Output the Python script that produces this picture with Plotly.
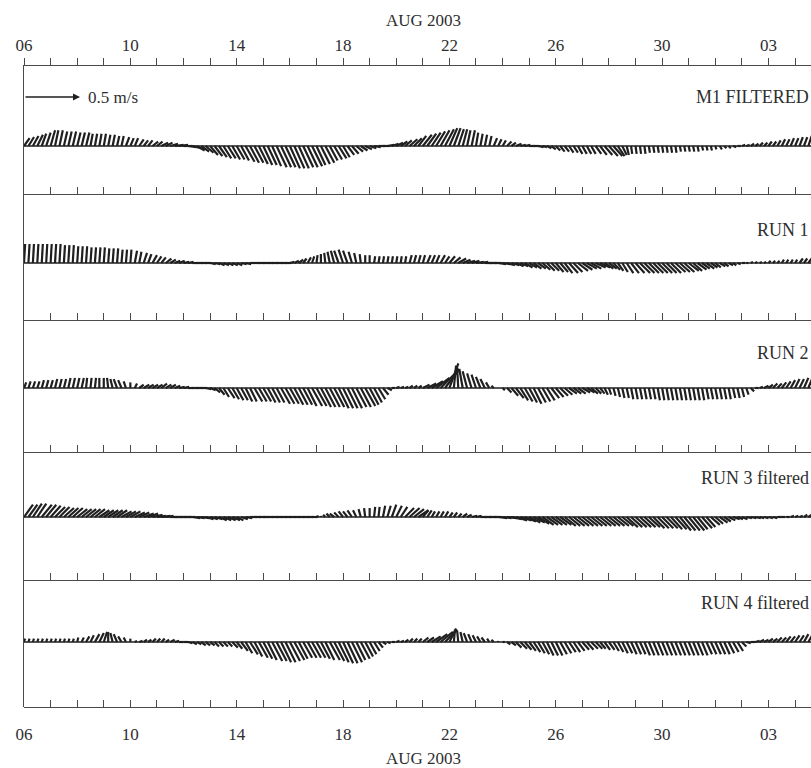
import plotly.graph_objects as go

# ---------------- data (cm/s, 4-hourly from 06 Aug 2003 00:00) ----------------
STEP_DAYS = 4 / 24.0
tick_days = [0, 4, 8, 12, 16, 20, 24, 28]
tick_labels = ["06", "10", "14", "18", "22", "26", "30", "03"]
month_label = "AUG 2003"
panel_names = ["M1 FILTERED", "RUN 1", "RUN 2", "RUN 3 filtered", "RUN 4 filtered"]
scale_ref_ms = 0.5
scale_label = "0.5 m/s"

m1_u = [5, 5, 5, 5, 4, 4,  4, 3, 3, 3, 3, 3,  3, 3, 3, 2, 2, 2,  2, 2, 2, 2, 2, 3,
        3, 3, 4, 4, 4, 5,  5, 6, 6, 7, 8, 8,  8, 8, 8, 7, 7, 7,  7, 7, 7, 7, 7, 7,
        7, 7, 8, 8, 8, 8,  8, 8, 8, 9, 9, 9,  9, 9, 9, 9, 9, 9,  8, 8, 8, 7, 7, 7,
        6, 6, 6, 6, 6, 6,  6, 6, 6, 6, 6, 6,  6, 6, 6, 7, 7, 7,  8, 8, 8, 8, 8, 8,
        7, 6, 5, 4, 3, 3,  2, 2, 2, 2, 3, 3,  3, 4, 4, 5, 5, 5,  5, 5, 5, 4, 4, 4,
        4, 4, 4, 4, 4, 4,  4, 4, 4, 5, 6, 7,  8, 8, 6, 4, 2, 1,  1, 1, 1, 1, 1, 1,
        1, 1, 1, 1, 1, 1,  1, 1, 1, 1, 1, 1,  1, 2, 2, 2, 3, 3,  3, 3, 3, 3, 3, 3,
        3, 3, 3, 3, 3, 3,  3, 3, 3, 3]
m1_v = [7, 8, 9, 10, 11, 12,  14, 14, 14, 13, 13, 13,  12, 12, 12, 11, 11, 11,
        11, 10, 10, 9, 9, 8,  7, 7, 6, 5, 5, 4,  4, 3, 3, 2, 1, 1,
        0, -1, -2, -4, -5, -6,  -8, -9, -10, -11, -11, -12,  -12, -13, -14, -15, -15, -16,
        -17, -17, -18, -19, -19, -19,  -20, -20, -20, -19, -19, -18,  -17, -16, -15, -13, -12, -11,
        -10, -8, -7, -5, -4, -3,  -2, -1, 0, 0, 1, 2,  3, 4, 5, 6, 7, 9,
        10, 11, 12, 13, 14, 15,  16, 16, 15, 15, 14, 14,  12, 11, 10, 9, 7, 6,
        5, 4, 3, 2, 1, 1,  0, 0, -1, -1, -2, -3,  -4, -5, -5, -6, -6, -7,
        -7, -7, -7, -7, -8, -8,  -9, -9, -9, -8, -8, -7,  -7, -7, -7, -6, -6, -6,
        -6, -6, -6, -6, -5, -5,  -5, -5, -5, -4, -4, -4,  -3, -3, -2, -2, -1, 0,
        1, 1, 2, 2, 3, 3,  4, 4, 5, 6, 6, 7,  7, 8, 8, 9]

run1_u = [1, 1, 1, 1, 1, 1,  1, 1, 1, 1, 1, 1,  1, 1, 1, 1, 1, 1,  1, 1, 1, 1, 1, 1,
          1, 2, 2, 3, 3, 4,  4, 4, 5, 5, 5, 5,  5, 5, 5, 5, 5, 5,  5, 5, 5, 5, 5, 5,
          5, 5, 5, 5, 5, 5,  5, 5, 5, 5, 5, 5,  4, 4, 4, 3, 3, 2,  1, 0, -1, -2, -3, -4,
          -4, -4, -3, -2, -1, 0,  0, 1, 1, 1, 1, 1,  1, 1, 1, 2, 2, 2,  2, 3, 3, 3, 4, 4,
          5, 6, 7, 7, 7, 7,  7, 7, 7, 7, 7, 7,  7, 7, 7, 7, 7, 7,  7, 7, 7, 7, 7, 7,
          7, 7, 7, 8, 8, 9,  9, 9, 9, 9, 9, 8,  7, 6, 5, 5, 6, 7,  8, 9, 9, 9, 9, 9,
          9, 9, 9, 9, 9, 9,  9, 8, 8, 7, 7, 6,  5, 5, 4, 4, 3, 3,  3, 2, 2, 2, 2, 2,
          2, 2, 2, 2, 2, 2,  2, 3, 3, 3]
run1_v = [17, 17, 17, 17, 17, 17,  17, 17, 17, 16, 16, 16,  15, 15, 15, 14, 14, 14,
          14, 13, 13, 13, 12, 12,  12, 11, 10, 9, 8, 7,  6, 5, 4, 3, 2, 2,
          1, 1, 0, 0, 0, 0,  -1, -1, -2, -2, -2, -2,  -2, -1, -1, 0, 0, 0,
          0, 0, 0, 0, 0, 0,  1, 2, 3, 4, 5, 6,  7, 8, 9, 10, 11, 11,
          12, 11, 10, 9, 8, 7,  7, 6, 6, 6, 6, 6,  6, 6, 6, 7, 7, 7,
          7, 7, 7, 7, 7, 6,  6, 5, 4, 3, 2, 2,  1, 1, 0, 0, 0, -1,
          -1, -2, -2, -3, -3, -4,  -4, -5, -5, -6, -7, -7,  -8, -8, -9, -9, -8, -7,
          -6, -5, -5, -4, -4, -5,  -5, -6, -7, -8, -9, -9,  -9, -9, -9, -9, -9, -9,
          -9, -9, -9, -8, -8, -8,  -7, -7, -6, -5, -5, -4,  -4, -3, -3, -2, -2, -1,
          0, 0, 1, 1, 1, 1,  2, 2, 2, 3, 3, 3,  3, 4, 4, 4]

run2_u = [2, 2, 2, 2, 2, 2,  2, 2, 2, 2, 2, 2,  2, 2, 1, 1, 1, 0,  0, -1, -2, -3, -3, -2,
          0, 2, 4, 5, 5, 5,  5, 5, 5, 5, 5, 5,  5, 5, 5, 5, 5, 5,  5, 5, 5, 5, 6, 6,
          6, 6, 6, 6, 7, 7,  7, 7, 7, 7, 8, 8,  8, 8, 8, 8, 8, 9,  9, 9, 9, 9, 9, 9,
          9, 9, 9, 9, 9, 9,  8, 7, 6, 5, 4, 3,  3, 3, 3, 3, 3, 3,  6, 8, 10, 12, 13, 13,
          8, 2, -1, -3, -4, -4,  -4, -4, -4, -3, -2, 0,  2, 4, 6, 7, 7, 7,  7, 7, 7, 7, 7, 7,
          7, 7, 7, 7, 7, 7,  7, 7, 6, 5, 4, 3,  2, 2, 2, 2, 2, 2,  2, 2, 2, 2, 2, 2,
          2, 2, 2, 2, 2, 2,  2, 2, 2, 2, 2, 2,  2, 2, 2, 2, 2, 2,  2, 2, 3, 3, 3, 4,
          4, 4, 4, 4, 4, 4,  4, 4, 4, 4]
run2_v = [5, 6, 6, 6, 7, 7,  7, 8, 8, 8, 9, 9,  9, 9, 9, 9, 9, 9,  9, 9, 8, 8, 7, 6,
          5, 4, 3, 3, 3, 3,  3, 4, 3, 3, 2, 1,  1, 0, 0, 0, 0, -1,
          -2, -4, -6, -8, -9, -10,  -11, -11, -12, -12, -12, -12,  -12, -13, -13, -13, -14, -14,
          -14, -15, -15, -15, -16, -16,  -16, -17, -17, -17, -17, -18,  -18, -18, -18, -17, -17, -16,
          -15, -13, -10, -6, -2, 0,  1, 1, 1, 2, 2, 2,  3, 4, 6, 9, 13, 17,
          22, 20, 18, 17, 15, 13,  12, 10, 8, 5, 2, 0,  -2, -4, -7, -9, -11, -12,
          -13, -14, -13, -12, -11, -9,  -8, -7, -6, -5, -5, -5,  -4, -4, -5, -5, -5, -6,
          -6, -7, -8, -9, -9, -10,  -10, -10, -10, -10, -10, -11,  -11, -11, -11, -11, -11, -11,
          -11, -11, -11, -11, -10, -10,  -10, -10, -10, -10, -9, -9,  -8, -6, -3, 0, 1, 2,
          3, 4, 4, 5, 6, 7,  8, 8, 9, 10]

run3_u = [8, 8, 8, 8, 9, 9,  9, 9, 9, 9, 9, 9,  9, 9, 9, 9, 9, 9,  9, 9, 9, 9, 9, 9,
          9, 9, 9, 9, 9, 9,  8, 8, 7, 7, 7, 7,  7, 7, 7, 7, 7, 7,  7, 7, 7, 7, 7, 7,
          6, 6, 6, 6, 6, 6,  5, 5, 5, 5, 5, 5,  5, 5, 5, 5, 5, 5,  2, 0, -2, -3, -4, -4,
          -4, -4, -4, -3, -2, -1,  0, 1, 1, 2, 3, 4,  5, 6, 8, 9, 9, 9,  5, 4, 3, 3, 3, 3,
          3, 3, 3, 4, 4, 5,  5, 6, 6, 7, 7, 8,  8, 9, 9, 10, 10, 10,  10, 10, 10, 10, 10, 10,
          10, 10, 10, 10, 10, 10,  10, 10, 10, 10, 10, 10,  10, 10, 10, 10, 10, 10,  10, 10, 10, 10, 10, 10,
          10, 10, 10, 10, 10, 10,  10, 10, 9, 9, 8, 8,  7, 7, 6, 6, 6, 5,  5, 5, 5, 5, 4, 4,
          4, 4, 4, 3, 3, 3,  3, 3, 3, 3]
run3_v = [11, 11, 12, 12, 11, 11,  10, 9, 9, 8, 8, 8,  7, 7, 7, 7, 7, 6,  6, 6, 6, 6, 5, 5,
          5, 4, 4, 3, 3, 2,  1, 1, 1, 0, 0, 0,  0, 0, -1, -1, -1, -2,  -2, -2, -3, -3, -3, -3,
          -3, -2, -1, 0, 0, 0,  0, 0, 0, 0, 0, 0,  0, 0, 0, 0, 0, 0,  1, 1, 2, 3, 3, 4,
          5, 5, 6, 6, 7, 8,  8, 9, 9, 10, 10, 11,  10, 9, 8, 8, 7, 6,  6, 6, 5, 5, 5, 5,
          4, 4, 3, 3, 2, 1,  1, 0, 0, 0, 0, -1,  -1, -1, -2, -3, -3, -4,  -5, -5, -6, -7, -7, -7,
          -7, -7, -8, -8, -8, -8,  -8, -8, -8, -8, -8, -8,  -8, -8, -8, -8, -9, -9,  -9, -9, -9, -9, -10, -10,
          -10, -10, -11, -11, -12, -12,  -12, -12, -11, -10, -9, -7,  -6, -5, -4, -3, -2, -2,
          -2, -1, -1, -1, -1, -1,  -1, -1, 0, 0, 0, 1,  1, 1, 2, 2]

run4_u = [1, 1, 1, 1, 1, 1,  1, 1, 1, 1, 1, 1,  1, 2, 3, 3, 4, 4,  3, 0, -2, -3, -3, -2,
          0, 2, 3, 3, 3, 3,  3, 3, 3, 4, 4, 4,  4, 4, 4, 4, 4, 4,  4, 4, 4, 4, 4, 5,
          5, 6, 6, 7, 7, 8,  8, 8, 9, 9, 9, 9,  9, 9, 8, 8, 8, 8,  8, 8, 8, 9, 9, 9,
          9, 9, 9, 8, 8, 7,  6, 5, 4, 3, 3, 3,  3, 3, 3, 3, 3, 3,  5, 6, 8, 10, 11, 11,
          6, 1, -1, -2, -3, -3,  -3, -3, -3, -2, -2, 0,  2, 3, 4, 5, 6, 6,  6, 6, 6, 6, 6, 6,
          6, 6, 6, 6, 6, 6,  6, 6, 6, 6, 5, 5,  5, 5, 5, 5, 5, 5,  5, 5, 5, 5, 5, 5,
          5, 5, 5, 5, 5, 5,  5, 5, 5, 5, 5, 5,  5, 5, 5, 5, 5, 5,  4, 4, 4, 4, 4, 4,
          4, 4, 4, 4, 4, 4,  4, 4, 4, 4]
run4_v = [3, 3, 3, 3, 3, 3,  3, 3, 3, 3, 3, 3,  4, 4, 5, 6, 7, 8,  9, 9, 8, 7, 5, 4,
          3, 1, 1, 2, 2, 3,  3, 3, 2, 2, 1, 0,  0, -1, -2, -2, -3, -3,  -3, -4, -4, -4, -4, -5,
          -6, -8, -10, -11, -13, -14,  -15, -16, -17, -17, -18, -18,  -17, -16, -15, -14, -14, -14,
          -14, -15, -16, -16, -17, -18,  -19, -19, -18, -16, -15, -13,  -11, -8, -5, -2, -1, 0,
          1, 1, 2, 3, 3, 3,  4, 4, 5, 7, 9, 11,  12, 11, 10, 9, 8, 7,  6, 5, 4, 3, 2, 1,
          0, -2, -3, -5, -6, -7,  -8, -9, -10, -11, -12, -12,  -12, -11, -10, -9, -9, -8,
          -7, -7, -6, -6, -6, -7,  -7, -8, -9, -10, -10, -11,  -11, -11, -12, -12, -12, -12,
          -12, -12, -12, -12, -12, -12,  -12, -12, -12, -12, -11, -11,  -11, -11, -11, -10, -9, -8,
          -4, -1, 0, 1, 2, 2,  3, 3, 4, 4, 5, 5,  6, 6, 7, 7]

panels_u = [m1_u, run1_u, run2_u, run3_u, run4_u]
panels_v = [m1_v, run1_v, run2_v, run3_v, run4_v]

# ---------------- layout geometry (pixels) ----------------
W, H = 811, 768
PLOT_L, PLOT_R = 24, 811
PLOT_T, PLOT_B = 66, 707
X_MAX = 29.6                      # days shown
PX_PER_MS = 112.0                 # stick scale, same in x and y
px_per_day = (PLOT_R - PLOT_L) / X_MAX
days_per_ms = PX_PER_MS / px_per_day
Y_MAX = (PLOT_B - PLOT_T) / PX_PER_MS

base_px = [146, 263, 388, 517, 642]
bound_px = [66, 194, 320, 452, 580, 707]
label_px = [97, 230, 353, 478, 603]
arrow_px = 97


def y_of(px):
    return (PLOT_B - px) / PX_PER_MS


def ypaper(px):
    return (PLOT_B - px) / (PLOT_B - PLOT_T)


FONT = "Liberation Serif, Times New Roman, serif"
TXT = "#2e2e2e"
LINE = "#4a4a4a"
STICK = "#1f1f1f"

fig = go.Figure()

for u_list, v_list, bpx in zip(panels_u, panels_v, base_px):
    b = y_of(bpx)
    xs, ys = [], []
    for i, (u, v) in enumerate(zip(u_list, v_list)):
        t = i * STEP_DAYS
        xs += [t, t + (u / 100.0) * days_per_ms, None]
        ys += [b, b + v / 100.0, None]
    fig.add_trace(go.Scatter(x=xs, y=ys, mode="lines",
                             line=dict(color=STICK, width=2.2),
                             hoverinfo="skip", showlegend=False))
    fig.add_shape(type="line", xref="paper", yref="y", x0=0, x1=1, y0=b, y1=b,
                  line=dict(color=STICK, width=1.4))

all_days = list(range(0, 30))
all_text = [tick_labels[tick_days.index(d)] if d in tick_days else "" for d in all_days]

common = dict(range=[0, X_MAX], tickmode="array", tickvals=all_days, ticktext=all_text,
              ticklen=7, tickwidth=1, tickcolor=LINE, showline=True, linecolor=LINE,
              linewidth=1, showgrid=False, zeroline=False,
              tickfont=dict(family=FONT, size=17, color=TXT))

layout = dict(
    width=W, height=H,
    margin=dict(l=PLOT_L, r=W - PLOT_R, t=PLOT_T, b=H - PLOT_B, pad=0),
    paper_bgcolor="white", plot_bgcolor="white",
    showlegend=False,
    xaxis=dict(common, side="top", ticks="outside", showticklabels=True),
    yaxis=dict(range=[0, Y_MAX], showgrid=False, zeroline=False, showticklabels=False,
               ticks="", showline=True, linecolor=LINE, linewidth=1.2),
)

for k, bpx in enumerate(bound_px[1:], start=2):
    is_bottom = (k == len(bound_px))
    layout["xaxis%d" % k] = dict(common, overlaying="x", anchor="free",
                                 position=ypaper(bpx), side="bottom", ticks="inside",
                                 showticklabels=is_bottom,
                                 ticklabelstandoff=12 if is_bottom else 0)
    fig.add_trace(go.Scatter(x=[None], y=[None], xaxis="x%d" % k, yaxis="y",
                             mode="lines", hoverinfo="skip", showlegend=False))

fig.update_layout(**layout)

ann = []
for name, lpx in zip(panel_names, label_px):
    ann.append(dict(text=name, xref="paper", yref="paper", x=1.0, y=ypaper(lpx),
                    xanchor="right", yanchor="middle", showarrow=False,
                    font=dict(family=FONT, size=18, color=TXT)))
ya = y_of(arrow_px)
ann.append(dict(text="", x=scale_ref_ms * days_per_ms, y=ya, ax=0, ay=ya,
                xref="x", yref="y", axref="x", ayref="y", showarrow=True,
                arrowhead=2, arrowsize=1, arrowwidth=1.4, arrowcolor=STICK))
ann.append(dict(text=scale_label, x=scale_ref_ms * days_per_ms + 0.22, y=ya,
                xref="x", yref="y", xanchor="left", yanchor="middle", showarrow=False,
                font=dict(family=FONT, size=17, color=TXT)))
mid = (423 - PLOT_L) / (PLOT_R - PLOT_L)
ann.append(dict(text=month_label, xref="paper", yref="paper", x=mid, y=ypaper(20),
                xanchor="center", yanchor="middle", showarrow=False,
                font=dict(family=FONT, size=17, color=TXT)))
ann.append(dict(text=month_label, xref="paper", yref="paper", x=mid, y=ypaper(758),
                xanchor="center", yanchor="middle", showarrow=False,
                font=dict(family=FONT, size=17, color=TXT)))
fig.update_layout(annotations=ann)

fig.write_html("out.html")
